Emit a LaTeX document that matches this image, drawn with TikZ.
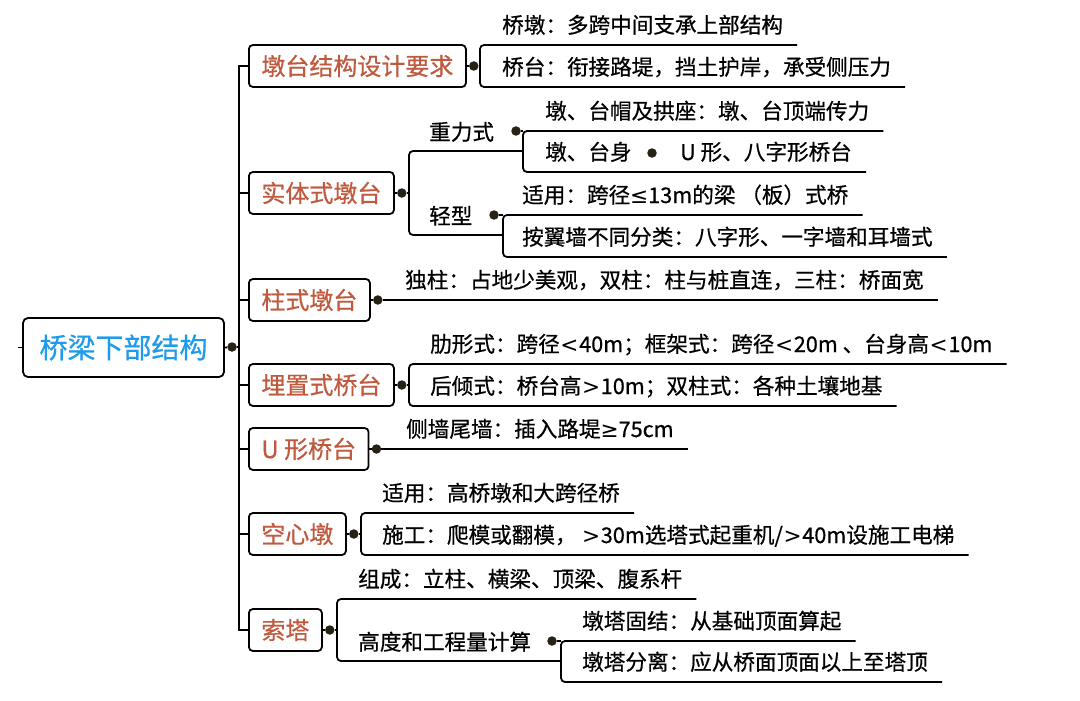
\documentclass[tikz,border=0pt]{standalone}
\usepackage{fontspec}
\setmainfont{Noto Sans CJK SC}[FakeBold=0.6]
\newfontfamily\symfont{DejaVu Sans}
\newcommand\lessmark{\hbox to 0.9em{\hss\symfont <\hss}}
\newcommand\moremark{\hbox to 0.9em{\hss\symfont >\hss}}
\usetikzlibrary{calc}
\definecolor{topicblue}{RGB}{30,155,235}
\definecolor{branchred}{RGB}{192,90,62}
\definecolor{knotdark}{RGB}{38,34,22}
\begin{document}
\begin{tikzpicture}[x=1pt,y=-1pt,
    wire/.style={line width=1.8pt, rounded corners=4pt},
    topic/.style={draw, line width=1.8pt, rounded corners=5pt, minimum width=201pt, minimum height=59pt, text=topicblue, font=\fontsize{28}{30}\selectfont},
    branch/.style={draw, line width=1.8pt, rounded corners=4pt, minimum height=42pt, inner xsep=12.5pt, anchor=west, text=branchred, font=\fontsize{24}{26}\selectfont},
    leaf/.style={inner sep=0pt, anchor=base west, font=\fontsize{21.6}{24}\selectfont},
    knot/.style={circle, fill=knotdark, inner sep=0pt, minimum size=9.5pt}]
    \fill[white] (0,0) rectangle (1080,701);
    \useasboundingbox (0,0) rectangle (1080,701);

    \node[topic] (root) at (123.5,347.5) {桥梁下部结构};
    \node[knot] (k0) at (232,347) {};
    \coordinate (trunk) at (239,347);

    \node[branch] (b1) at (248,66) {墩台结构设计要求};
    \node[branch] (b2) at (248,193) {实体式墩台};
    \node[branch] (b3) at (248,300) {柱式墩台};
    \node[branch] (b4) at (248,385) {埋置式桥台};
    \node[branch] (b5) at (248,449) {U 形桥台};
    \node[branch] (b6) at (248,534) {空心墩};
    \node[branch] (b7) at (248,630) {索塔};
    \foreach \b in {b1,b2,b3,b4,b5,b6,b7}
        \node[knot] (k\b) at ([xshift=7pt]\b.east) {};

    \node[leaf] (c11) at (502,33) {桥墩：多跨中间支承上部结构};
    \node[leaf] (c12) at (502,75) {桥台：衔接路堤，挡土护岸，承受侧压力};
    \node[leaf] (g1) at (429,140) {重力式};
    \node[knot] (kg1) at (516,131) {};
    \node[leaf] (c21) at (545,119) {墩、台帽及拱座：墩、台顶端传力};
    \node[leaf] (c22) at (545,160) {墩、台身};
    \node[knot] (k22) at (652,153) {};
    \node[leaf] (c23) at (680,160) {U 形、八字形桥台};
    \node[leaf] (g2) at (429,224) {轻型};
    \node[knot] (kg2) at (494,215) {};
    \node[leaf] (c24) at (522,203) {适用：跨径{\symfont ≤}13m的梁 （板）式桥};
    \node[leaf] (c25) at (522,245) {按翼墙不同分类：八字形、一字墙和耳墙式};
    \node[leaf] (c3) at (405,288) {独柱：占地少美观，双柱：柱与桩直连，三柱：桥面宽};
    \node[leaf] (c41) at (430,352) {肋形式：跨径\lessmark 40m；框架式：跨径\lessmark 20m 、台身高\lessmark 10m};
    \node[leaf] (c42) at (430,394) {后倾式：桥台高\moremark 10m；双柱式：各种土壤地基};
    \node[leaf] (c5) at (406,437) {侧墙尾墙：插入路堤{\symfont ≥}75cm};
    \node[leaf] (c61) at (382,501) {适用：高桥墩和大跨径桥};
    \node[leaf] (c62) at (382,543) {施工：爬模或翻模， \moremark 30m选塔式起重机/\moremark 40m设施工电梯};
    \node[leaf] (c71) at (358,587) {组成：立柱、横梁、顶梁、腹系杆};
    \node[leaf] (g7) at (358,650) {高度和工程量计算};
    \node[knot] (kg7) at (552,641) {};
    \node[leaf] (c72) at (582,629) {墩塔固结：从基础顶面算起};
    \node[leaf] (c73) at (582,670) {墩塔分离：应从桥面顶面以上至塔顶};

    \draw[wire] (root.west) -- ++(-4,0);
    \draw[wire] (root.east) -- (k0) -- (trunk);
    \draw[wire, sharp corners] (b1.west) -| (trunk |- b7.west) -- (b7.west);
    \foreach \b in {b2,b3,b4,b5,b6}
        \draw[wire] (trunk |- \b.west) -- (\b.west);

    \draw[wire] (b1.east) -- (kb1) -- (480,66);
    \draw[wire] ($(c11.base east)+(14,12)$) -- (480,45) -- (480,87) -- ($(c12.base east)+(14,12)$);

    \draw[wire] (b2.east) -- (kb2) -- (409,193);
    \draw[wire] (523,151) -- (409,151) -- (409,235) -- (503,235);
    \draw[wire] (kg1) -- (523,131);
    \draw[wire] ($(c21.base east)+(14,12)$) -- (523,131) -- (523,172) -- ($(c23.base east)+(14,12)$);
    \draw[wire] (kg2) -- (503,215);
    \draw[wire] ($(c24.base east)+(14,12)$) -- (503,215) -- (503,257) -- ($(c25.base east)+(14,12)$);

    \draw[wire] (b3.east) -- (kb3) -- ($(c3.base east)+(14,12)$);

    \draw[wire] (b4.east) -- (kb4) -- (409,385);
    \draw[wire] ($(c41.base east)+(14,12)$) -- (409,364) -- (409,406) -- ($(c42.base east)+(14,12)$);

    \draw[wire] (b5.east) -- (kb5) -- ($(c5.base east)+(14,12)$);

    \draw[wire] (b6.east) -- (kb6) -- (361,534);
    \draw[wire] ($(c61.base east)+(14,12)$) -- (361,513) -- (361,555) -- ($(c62.base east)+(14,12)$);

    \draw[wire] (b7.east) -- (kb7) -- (337,630);
    \draw[wire] ($(c71.base east)+(14,12)$) -- (337,599) -- (337,661) -- (561,661);
    \draw[wire] (kg7) -- (561,641);
    \draw[wire] ($(c72.base east)+(14,12)$) -- (561,641) -- (561,682) -- ($(c73.base east)+(14,12)$);
\end{tikzpicture}
\end{document}
